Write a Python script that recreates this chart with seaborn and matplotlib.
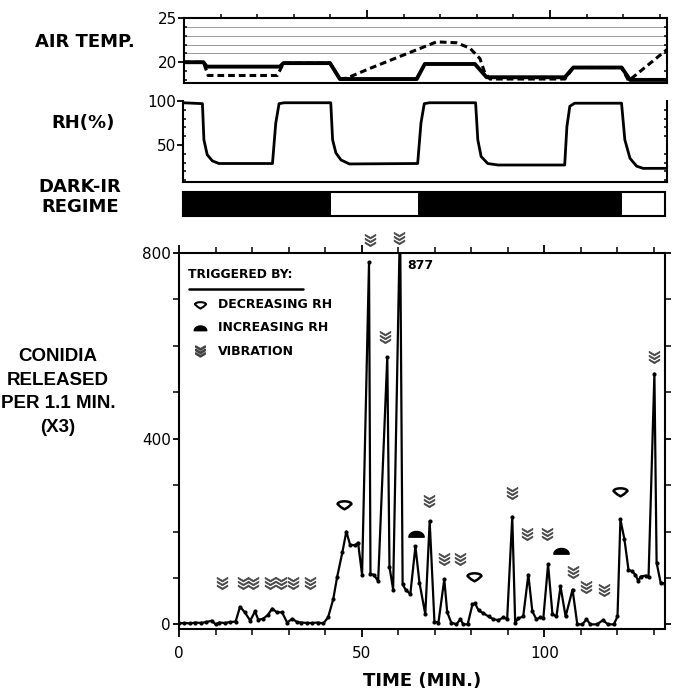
import numpy as np
import pandas as pd
import matplotlib
matplotlib.use("Agg")
import matplotlib.pyplot as plt
import seaborn as sns
from matplotlib.path import Path
from matplotlib.ticker import MultipleLocator, FixedLocator

# ---------------- data ----------------
# air temperature (deg C): solid and dashed traces
temp_solid_t = [0, 5.3, 6.2, 26.2, 27.2, 39.9, 42.6, 63.6, 65.8, 79.5, 82.7, 104.1, 106.4, 119.6, 121.9, 132]
temp_solid_v = [20.0, 20.0, 19.5, 19.5, 19.9, 19.9, 18.1, 18.1, 19.8, 19.8, 18.3, 18.3, 19.4, 19.4, 18.0, 18.0]
temp_dash_t = [0, 5.3, 6.6, 25.5, 27.2, 39.9, 42.6, 44.5, 50.8, 59.9, 69.0, 74.5, 78.1, 80.9, 82.2, 83.6,
               104.1, 106.4, 119.6, 121.5, 132.5]
temp_dash_v = [20.0, 20.0, 18.5, 18.5, 19.9, 19.9, 18.1, 18.2, 19.3, 20.8, 22.3, 22.2, 21.6, 20.4, 18.8, 18.1,
               18.1, 19.4, 19.4, 17.9, 21.6]

# relative humidity (%)
rh_t = [0, 5.3, 5.7, 6.6, 8.0, 9.8, 24.4, 25.3, 26.2, 27.6, 40.3, 40.8, 41.7, 43.1, 45.4,
        64.0, 64.9, 65.8, 67.2, 79.8, 80.4, 81.3, 83.1, 85.9, 104.1, 104.7, 105.5, 106.8,
        119.6, 120.5, 121.9, 123.7, 125.5, 132]
rh_v = [98, 97, 56, 39, 32, 29, 29, 75, 97, 98, 98, 56, 41, 33, 28.5,
        29, 75, 97, 98, 98, 56, 37, 29, 27.3, 27.3, 71, 94, 97.5,
        97.5, 56, 35, 26, 23.5, 23.5]

# dark-IR regime: (start, end) of dark periods
dark_start = [0, 64.0]
dark_end = [40.3, 119.6]

# conidia released per 1.1 min (x3)
con_t = [0, 1.5, 3, 4.5, 6, 7.5, 9, 10, 11, 12.5, 14, 15.5, 16.7, 18, 19.5, 20.8, 21.7, 23, 24.3, 25.5,
         26.8, 28.2, 29.6, 31, 32.3, 33.5, 35, 36.5, 38, 39.5, 40.8, 42.2, 43.3, 44.7, 45.8, 46.8, 48.2,
         49, 50.1, 52, 52.4, 53.3, 54.5, 57, 57.6, 58.6, 60.5, 61.2, 62, 63.3, 64.7, 65.8, 67.4, 68.6,
         69.9, 71, 72.6, 73.4, 74.5, 75.9, 77, 77.8, 79, 80.3, 81, 82, 83.3, 84.7, 86, 87.4, 88.8, 89.8,
         91.2, 92, 92.9, 94.2, 95.6, 96.7, 97.8, 98.9, 99.7, 101, 102.2, 103.3, 104.4, 105.8, 107.7, 109,
         110.4, 111.5, 112.6, 114.4, 116, 117.4, 119, 120, 120.8, 121.9, 123, 124, 124.9, 125.7, 126.3,
         127.7, 128.5, 130.1, 130.7, 131.8, 133]
con_v = [2, 3, 2, 4, 3, 5, 8, 0, 4, 3, 5, 6, 38, 26, 8, 28, 10, 12, 20, 34,
         26, 26, 4, 12, 5, 4, 3, 3, 4, 2, 15, 54, 103, 155, 200, 172, 170,
         176, 107, 780, 108, 107, 93, 576, 124, 75, 877, 86, 75, 65, 168, 90, 22, 222,
         6, 4, 97, 26, 4, 0, 11, 0, 0, 43, 45, 30, 24, 17, 11, 9, 15, 11,
         232, 4, 13, 17, 107, 28, 11, 15, 13, 129, 22, 17, 82, 17, 75, 0,
         0, 11, 0, 0, 9, 0, 0, 17, 226, 183, 118, 114, 107, 93, 103,
         105, 103, 540, 133, 90, 88]

# trigger symbols
dec_t = [45.2, 80.8, 120.8]
dec_v = [258, 101, 286]
inc_t = [64.9, 104.6]
inc_v = [194, 157]
vib_t = [11.8, 17.5, 20.3, 24.9, 27.9, 31.2, 35.9, 52.3, 56.4, 60.3, 68.5, 72.6, 77.0, 91.0, 95.3,
         100.8, 107.7, 111.5, 116.2, 129.9]
vib_v = [90, 90, 90, 90, 90, 90, 90, 828, 619, 832, 265, 140, 140, 284, 194, 194, 112, 80, 75, 576]

# ---------------- markers ----------------
def chevron_path(n=3):
    verts, codes = [], []
    for k in range(n):
        dy = k * 0.5
        pts = [(-0.7, 0.4 + dy), (0, 0.0 + dy), (0.7, 0.4 + dy), (0.7, 0.2 + dy),
               (0, -0.22 + dy), (-0.7, 0.2 + dy), (-0.7, 0.4 + dy)]
        verts += pts
        codes += [Path.MOVETO] + [Path.LINETO] * 5 + [Path.CLOSEPOLY]
    v = np.array(verts, dtype=float)
    v[:, 1] -= (v[:, 1].max() + v[:, 1].min()) / 2
    return Path(v, codes)


def dec_path():
    th = np.linspace(np.pi, 0, 25)
    top = np.column_stack([np.cos(th), 0.2 + 0.4 * np.sin(th)])
    bot = np.array([[0.5, -0.25], [0, -0.55], [-0.5, -0.25], [-1, 0.2]])
    v = np.vstack([top, bot])
    codes = [Path.MOVETO] + [Path.LINETO] * (len(v) - 2) + [Path.CLOSEPOLY]
    return Path(v, codes)


def inc_path():
    th = np.linspace(np.pi, 0, 25)
    top = np.column_stack([np.cos(th), 0.75 * np.sin(th)])
    v = np.vstack([top, [[-1, 0]]])
    v[:, 1] -= 0.35
    codes = [Path.MOVETO] + [Path.LINETO] * (len(v) - 2) + [Path.CLOSEPOLY]
    return Path(v, codes)


VIB, DEC, INC = chevron_path(), dec_path(), inc_path()

# ---------------- figure ----------------
sns.set_theme(style="ticks")
plt.rcParams["font.family"] = ["DejaVu Sans"]
plt.rcParams["axes.linewidth"] = 1.5
for k in ["text.color", "axes.labelcolor", "xtick.color", "ytick.color", "axes.edgecolor",
          "xtick.labelcolor", "ytick.labelcolor"]:
    plt.rcParams[k] = "black"
plt.rcParams["xtick.major.width"] = 1.3
plt.rcParams["ytick.major.width"] = 1.3
plt.rcParams["xtick.minor.width"] = 1.1
plt.rcParams["ytick.minor.width"] = 1.1

W, H = 673, 693
fig = plt.figure(figsize=(W / 100, H / 100), dpi=100)


def box(l, t, r, b):
    return [l / W, 1 - b / H, (r - l) / W, (b - t) / H]


ax_t = fig.add_axes(box(184, 18, 667, 83))
ax_rh = fig.add_axes(box(183, 101, 667, 182))
ax_d = fig.add_axes(box(183, 192, 665, 216))
ax = fig.add_axes(box(179, 253, 665, 629))

# ---- temperature panel
for g in [21, 22, 23, 24]:
    ax_t.axhline(g, color="#9a9a9a", lw=0.7, zorder=0)
sns.lineplot(x=temp_dash_t, y=temp_dash_v, ax=ax_t, color="black", lw=2.2, sort=False)
ax_t.lines[-1].set_linestyle((0, (2.2, 1.3)))
sns.lineplot(x=temp_solid_t, y=temp_solid_v, ax=ax_t, color="black", lw=2.8, sort=False)
ax_t.set_xlim(0, 132)
ax_t.set_ylim(17.65, 25.0)
ax_t.set_yticks([20, 25])
ax_t.yaxis.set_minor_locator(MultipleLocator(1))
ax_t.tick_params(axis="y", which="major", labelsize=11, length=4, direction="out", pad=1)
ax_t.tick_params(axis="y", which="minor", length=2.5, direction="in", right=True)
ax_t.xaxis.tick_top()
ax_t.set_xticks([50, 100])
ax_t.xaxis.set_minor_locator(FixedLocator([10, 20, 30, 40, 60, 70, 80, 90, 110, 120, 130]))
ax_t.tick_params(axis="x", which="major", length=6, direction="out", labeltop=False, labelbottom=False)
ax_t.tick_params(axis="x", which="minor", length=3, direction="out")
ax_t.set_xlabel("")
ax_t.set_ylabel("")

# ---- RH panel
sns.lineplot(x=rh_t, y=rh_v, ax=ax_rh, color="black", lw=2.0, sort=False)
ax_rh.set_xlim(0, 132)
ax_rh.set_ylim(8, 100)
ax_rh.set_yticks([50, 100])
ax_rh.yaxis.set_minor_locator(MultipleLocator(10))
ax_rh.tick_params(axis="y", which="major", labelsize=11, length=4, direction="out", pad=1)
ax_rh.tick_params(axis="y", which="minor", length=2, direction="in", right=True)
ax_rh.set_xticks([])
ax_rh.spines["top"].set_visible(False)
ax_rh.set_xlabel("")
ax_rh.set_ylabel("")

# ---- dark-IR regime bar
for s, e in zip(dark_start, dark_end):
    ax_d.axvspan(s, e, color="black", lw=0)
ax_d.set_xlim(0, 131.3)
ax_d.set_ylim(0, 1)
ax_d.set_xticks([])
ax_d.set_yticks([])

# ---- main panel
df = pd.DataFrame({"t": con_t, "v": con_v})
sns.lineplot(data=df, x="t", y="v", ax=ax, color="black", lw=1.6, marker="o", markersize=3,
             markeredgewidth=0, sort=False)
ax.plot(vib_t, vib_v, ls="none", marker=VIB, ms=9, color="#444444", mec="#444444", mew=0.4,
        clip_on=False)
ax.plot(dec_t, dec_v, ls="none", marker=DEC, ms=10, mfc="white", mec="black", mew=1.8, clip_on=False)
ax.plot(inc_t, inc_v, ls="none", marker=INC, ms=11, color="black", clip_on=False)
ax.set_xlim(0, 133)
ax.set_ylim(-10, 800)
ax.set_yticks([0, 400, 800])
ax.yaxis.set_minor_locator(FixedLocator([100, 200, 300, 500, 600, 700]))
ax.tick_params(axis="y", which="both", length=4, direction="out", right=True, labelsize=11, pad=2)
ax.set_xticks([0, 50, 100])
ax.xaxis.set_minor_locator(FixedLocator([10, 20, 30, 40, 60, 70, 80, 90, 110, 120, 130]))
ax.tick_params(axis="x", which="major", length=6, direction="out", top=True, labelsize=11, pad=6)
ax.tick_params(axis="x", which="minor", length=4, direction="out", top=True)
ax.set_xlabel("TIME (MIN.)", fontsize=13, fontweight="bold", labelpad=8)
ax.set_ylabel("")
ax.text(62.4, 772, "877", fontsize=9, fontweight="bold", ha="left", va="center")

# legend block (drawn by hand like the original)
ax.text(0.018, 0.944, "TRIGGERED BY:", transform=ax.transAxes, fontsize=8.8, fontweight="bold",
        va="center", ha="left")
ax.plot([0.02, 0.255], [0.905, 0.905], transform=ax.transAxes, color="black", lw=1.8)
leg_y = [0.862, 0.801, 0.739]
leg_txt = ["DECREASING RH", "INCREASING RH", "VIBRATION"]
ax.plot([0.043], [leg_y[0]], transform=ax.transAxes, marker=DEC, ms=8, mfc="white", mec="black", mew=1.5)
ax.plot([0.043], [leg_y[1]], transform=ax.transAxes, marker=INC, ms=9, color="black")
ax.plot([0.043], [leg_y[2]], transform=ax.transAxes, marker=VIB, ms=8, color="#444444")
for y, s in zip(leg_y, leg_txt):
    ax.text(0.08, y, s, transform=ax.transAxes, fontsize=9, fontweight="bold", va="center", ha="left")

# left-hand panel labels
lab = dict(fontsize=13, fontweight="bold", ha="center", va="center")
fig.text(85 / W, 1 - 42 / H, "AIR TEMP.", **lab)
fig.text(83 / W, 1 - 123 / H, "RH(%)", **lab)
fig.text(80 / W, 1 - 197 / H, "DARK-IR\nREGIME", linespacing=1.15, **lab)
fig.text(58 / W, 1 - 392 / H, "CONIDIA\nRELEASED\nPER 1.1 MIN.\n(X3)", fontsize=13.5,
         fontweight="bold", ha="center", va="center", linespacing=1.5,
         family=["Liberation Sans", "DejaVu Sans"])

fig.savefig("out.png", dpi=100)
